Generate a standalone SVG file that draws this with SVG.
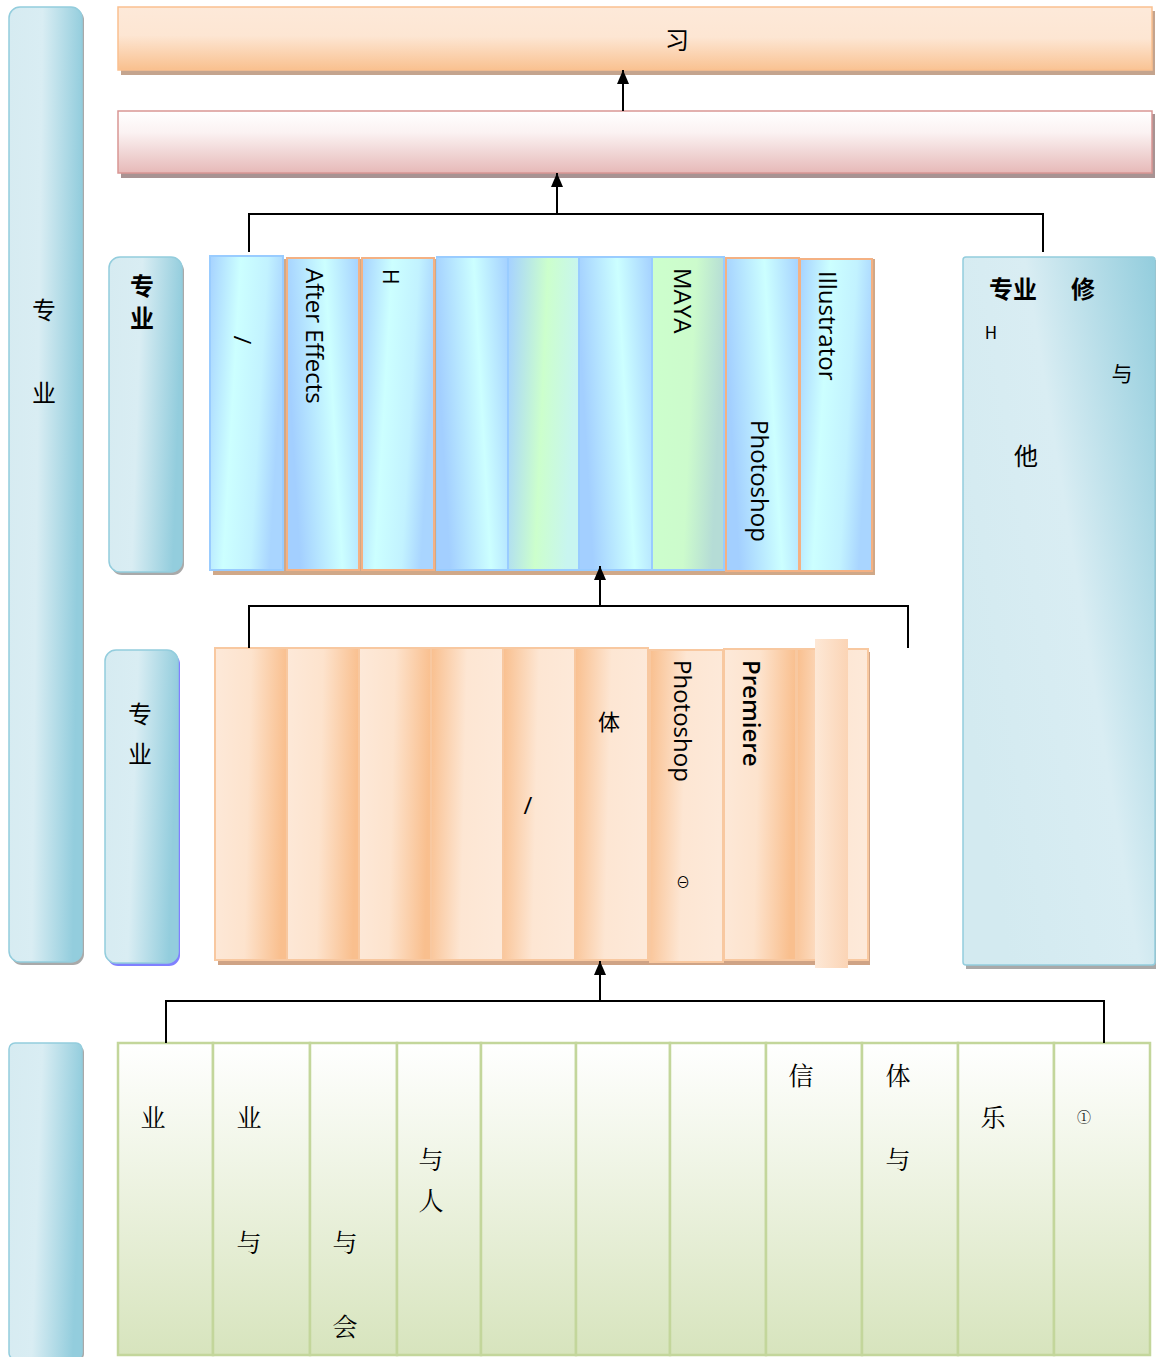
<svg xmlns="http://www.w3.org/2000/svg" width="1156" height="1357" viewBox="0 0 1156 1357">
<defs>
<linearGradient id="gLabel" x1="0" y1="0" x2="1" y2="0.15"><stop offset="0" stop-color="#d6ebf1"/><stop offset="0.45" stop-color="#d9edf3"/><stop offset="1" stop-color="#93cddd"/></linearGradient>
<linearGradient id="gPanel" x1="1" y1="0" x2="0" y2="0.6"><stop offset="0" stop-color="#93cddd"/><stop offset="0.5" stop-color="#d9edf3"/><stop offset="1" stop-color="#d3eaf0"/></linearGradient>
<linearGradient id="gTop" x1="0" y1="1" x2="0.05" y2="0"><stop offset="0" stop-color="#f9c08e"/><stop offset="0.55" stop-color="#fde6d3"/><stop offset="1" stop-color="#fde9d9"/></linearGradient>
<linearGradient id="gPink" x1="0" y1="0" x2="0" y2="1"><stop offset="0" stop-color="#ffffff"/><stop offset="0.35" stop-color="#fbf2f2"/><stop offset="1" stop-color="#e6b9b8"/></linearGradient>
<linearGradient id="gBlue" x1="0" y1="0" x2="1" y2="0.25"><stop offset="0" stop-color="#a6d2ff"/><stop offset="0.4" stop-color="#ccffff"/><stop offset="0.75" stop-color="#c2f2ff"/><stop offset="1" stop-color="#a9d5ff"/></linearGradient>
<linearGradient id="gBlue2" x1="1" y1="0" x2="0" y2="0.25"><stop offset="0" stop-color="#a6d2ff"/><stop offset="0.45" stop-color="#ccffff"/><stop offset="1" stop-color="#a3cfff"/></linearGradient>
<linearGradient id="gGreen" x1="0" y1="0" x2="1" y2="0.2"><stop offset="0" stop-color="#a6d2ff"/><stop offset="0.55" stop-color="#ccffcc"/><stop offset="1" stop-color="#c8f5f0"/></linearGradient>
<linearGradient id="gGreen2" x1="0" y1="0" x2="1" y2="0.2"><stop offset="0" stop-color="#ccffcc"/><stop offset="0.6" stop-color="#ccfbcc"/><stop offset="1" stop-color="#b5dcd6"/></linearGradient>
<linearGradient id="gOr" x1="0" y1="0" x2="1" y2="0.1"><stop offset="0" stop-color="#fde9d9"/><stop offset="0.5" stop-color="#fde3cd"/><stop offset="1" stop-color="#f9bf8e"/></linearGradient>
<linearGradient id="gOr2" x1="0" y1="0" x2="1" y2="0.1"><stop offset="0" stop-color="#f9bf8e"/><stop offset="0.5" stop-color="#fde6d3"/><stop offset="1" stop-color="#fde9d9"/></linearGradient>
<linearGradient id="gOrS" x1="0" y1="0" x2="1" y2="0"><stop offset="0" stop-color="#fde8d6"/><stop offset="1" stop-color="#fbd4b5"/></linearGradient>
<linearGradient id="gGr" x1="0" y1="0" x2="0" y2="1"><stop offset="0" stop-color="#ffffff"/><stop offset="1" stop-color="#d7e4bd"/></linearGradient>
<marker id="ah" markerWidth="14" markerHeight="12" refX="0" refY="0" orient="auto" markerUnits="userSpaceOnUse" viewBox="-14 -6 14 12"><path d="M0 0 L-14 -6 L-14 6 Z" fill="#000"/></marker>
</defs>
<style>
.lbl{fill:url(#gLabel);stroke:#93cddd;stroke-width:1.5}
.cb{stroke:#99ccff;stroke-width:2}
.co{stroke:#f4b183;stroke-width:2}
.cg{fill:url(#gGr);stroke:#c3d69b;stroke-width:2.5}
.or{stroke:#f8c8a0;stroke-width:2}
.cn{font-family:"Noto Sans CJK SC","Noto Sans",sans-serif;font-size:24px;fill:#000;text-anchor:middle}
.cnb{font-weight:bold}
.lat{font-family:"Open Sans","DejaVu Sans",sans-serif;font-size:24px;fill:#000;dominant-baseline:central}
.wire{fill:none;stroke:#000;stroke-width:2}
</style>

<g id="left-label">
<rect x="11" y="9" width="73" height="956" rx="11" fill="#a9a9a9"/>
<rect x="9" y="7" width="73" height="955" rx="11" class="lbl"/>
<text x="44" y="319" class="cn">专</text>
<text x="44" y="402" class="cn">业</text>
</g>

<g id="top-bar">
<rect x="121" y="11" width="1034" height="64" fill="#c4a48e"/>
<rect x="118" y="7" width="1034" height="63" fill="url(#gTop)" stroke="#fac090" stroke-width="1.5"/>
<text x="677" y="49" class="cn">习</text>
</g>

<g id="pink-bar">
<rect x="121" y="114" width="1034" height="64" fill="#a89393"/>
<rect x="118" y="111" width="1034" height="62" fill="url(#gPink)" stroke="#d99694" stroke-width="1.5"/>
</g>

<g id="blue-label">
<rect x="111" y="260" width="73" height="315" rx="11" fill="#a9a9a9"/>
<rect x="109" y="257" width="73" height="315" rx="11" class="lbl"/>
<text x="142" y="295" class="cn cnb">专</text>
<text x="142" y="327" class="cn cnb">业</text>
</g>

<g id="blue-row">
<rect x="213" y="259" width="662" height="316" fill="#d0a888"/>
<rect x="210" y="256" width="73" height="314" fill="url(#gBlue)" class="cb"/>
<text x="243" y="340" class="lat" text-anchor="middle" transform="rotate(90 243 340)">/</text>
<rect x="287" y="258" width="72" height="312" fill="url(#gBlue2)" class="co"/>
<text x="315" y="268" class="lat" transform="rotate(90 315 268)">After Effects</text>
<rect x="362" y="258" width="72" height="312" fill="url(#gBlue)" class="co"/>
<text x="391" y="269" class="lat" style="font-size:21px" transform="rotate(90 391 269)">H</text>
<rect x="437" y="257" width="287" height="313" fill="#99ccff" stroke="#99ccff" stroke-width="2"/>
<rect x="437" y="258" width="70" height="311" fill="url(#gBlue2)"/>
<rect x="509" y="258" width="69" height="311" fill="url(#gGreen)"/>
<rect x="580" y="258" width="71" height="311" fill="url(#gBlue2)"/>
<rect x="653" y="258" width="70" height="311" fill="url(#gGreen2)"/>
<text x="683" y="268" class="lat" transform="rotate(90 683 268)">MAYA</text>
<rect x="726" y="258" width="73" height="313" fill="url(#gBlue2)" class="co"/>
<text x="760" y="420" class="lat" transform="rotate(90 760 420)">Photoshop</text>
<rect x="800" y="259" width="72" height="312" fill="url(#gBlue)" class="co"/>
<text x="828" y="271" class="lat" transform="rotate(90 828 271)">Illustrator</text>
</g>

<g id="right-panel">
<rect x="966" y="260" width="192" height="709" fill="#a9a9a9"/>
<rect x="963" y="257" width="192" height="708" rx="3" fill="url(#gPanel)" stroke="#93cddd" stroke-width="1.5"/>
<text x="1013" y="298" class="cn cnb">专业</text>
<text x="1083" y="298" class="cn cnb">修</text>
<text x="991" y="339" class="cn" style="font-size:17px">H</text>
<text x="1122" y="381" class="cn" style="font-size:21px">与</text>
<text x="1026" y="465" class="cn">他</text>
</g>

<g id="orange-label">
<rect x="107" y="653" width="73" height="313" rx="11" fill="#8080ff"/>
<rect x="105" y="650" width="73" height="313" rx="11" class="lbl"/>
<text x="140" y="723" class="cn">专</text>
<text x="140" y="763" class="cn">业</text>
</g>

<g id="orange-row">
<rect x="218" y="652" width="652" height="313" fill="#cfa385"/>
<rect x="215" y="648" width="72" height="312" fill="url(#gOr)" class="or"/>
<rect x="287" y="648" width="72" height="312" fill="url(#gOr)" class="or"/>
<rect x="359" y="648" width="72" height="312" fill="url(#gOr)" class="or"/>
<rect x="431" y="648" width="72" height="312" fill="url(#gOr2)" class="or"/>
<rect x="503" y="648" width="72" height="312" fill="url(#gOr2)" class="or"/>
<rect x="575" y="648" width="73" height="312" fill="url(#gOr2)" class="or"/>
<text x="528" y="814" class="cn" style="font-family:'Open Sans',sans-serif">/</text>
<text x="609" y="730" class="cn" style="font-size:22px">体</text>
<rect x="650" y="650" width="73" height="312" fill="url(#gOr2)" class="or"/>
<text x="683" y="660" class="lat" transform="rotate(90 683 660)">Photoshop</text>
<text x="683" y="887" class="cn" style="font-size:14px">⊖</text>
<rect x="724" y="649" width="72" height="311" fill="url(#gOr)" class="or"/>
<text x="752" y="660" class="lat" style="font-weight:600" transform="rotate(90 752 660)">Premiere</text>
<rect x="797" y="649" width="71" height="311" fill="url(#gOr2)" class="or"/>
<rect x="815" y="639" width="33" height="329" fill="url(#gOrS)"/>
</g>

<g id="green-label">
<rect x="11" y="1046" width="73" height="314" rx="6" fill="#a9a9a9"/>
<rect x="9" y="1043" width="73" height="316" rx="6" class="lbl"/>
</g>

<g id="green-row">
<rect x="118" y="1043" width="95" height="312" class="cg"/>
<rect x="213" y="1043" width="97" height="312" class="cg"/>
<rect x="310" y="1043" width="87" height="312" class="cg"/>
<rect x="397" y="1043" width="84" height="312" class="cg"/>
<rect x="481" y="1043" width="95" height="312" class="cg"/>
<rect x="576" y="1043" width="94" height="312" class="cg"/>
<rect x="670" y="1043" width="96" height="312" class="cg"/>
<rect x="766" y="1043" width="96" height="312" class="cg"/>
<rect x="862" y="1043" width="96" height="312" class="cg"/>
<rect x="958" y="1043" width="96" height="312" class="cg"/>
<rect x="1054" y="1043" width="96" height="312" class="cg"/>
<g class="cn" style="font-family:'Noto Serif CJK SC','Noto Sans CJK SC',serif;font-size:25px">
<text x="153" y="1127">业</text>
<text x="249" y="1127">业</text>
<text x="249" y="1252">与</text>
<text x="345" y="1252">与</text>
<text x="345" y="1336">会</text>
<text x="431" y="1169">与</text>
<text x="431" y="1210">人</text>
<text x="801" y="1085">信</text>
<text x="898" y="1085">体</text>
<text x="898" y="1169">与</text>
<text x="993" y="1127">乐</text>
<text x="1084" y="1122" style="font-size:14px">①</text>
</g>
</g>

<g id="connectors">
<line x1="623" y1="111" x2="623" y2="70" class="wire" marker-end="url(#ah)"/>
<path d="M249 252 V214 H1043 V252" class="wire"/>
<line x1="557" y1="214" x2="557" y2="173" class="wire" marker-end="url(#ah)"/>
<path d="M249 648 V606 H908 V648" class="wire"/>
<line x1="600" y1="606" x2="600" y2="566" class="wire" marker-end="url(#ah)"/>
<path d="M166 1043 V1001 H1104 V1043" class="wire"/>
<line x1="600" y1="1001" x2="600" y2="961" class="wire" marker-end="url(#ah)"/>
</g>
</svg>
